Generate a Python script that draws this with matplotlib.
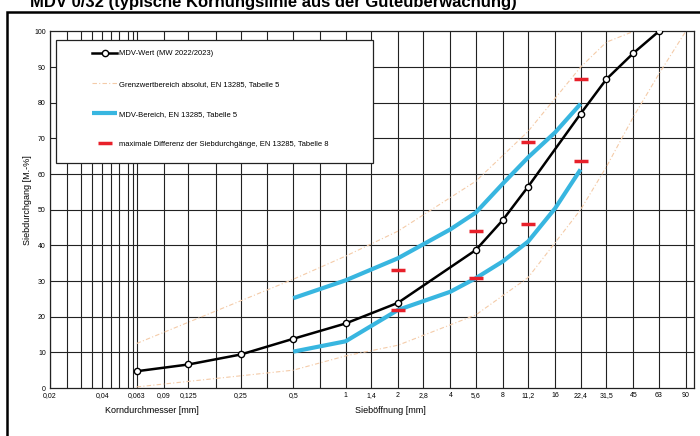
import numpy as np
import matplotlib.pyplot as plt
from matplotlib.patches import Rectangle

plt.rcParams['font.family'] = ['Liberation Sans', 'DejaVu Sans']

# Siebgroessen [mm]
sieve_mw = [0.063, 0.125, 0.25, 0.5, 1, 2, 5.6, 8, 11.2, 22.4, 31.5, 45, 63]
mw = [4.7, 6.6, 9.4, 13.8, 18.1, 23.9, 38.7, 47.1, 56.5, 76.9, 86.6, 93.9, 100]

# Grenzwertbereich absolut (Tabelle 5)
sieve_gw_up = [0.063, 0.5, 1, 2, 5.6, 11.2, 22.4, 31.5, 45, 63]
gw_up = [12.5, 30.5, 37, 44, 58, 72, 90, 97, 100, 100]
sieve_gw_lo = [0.063, 0.5, 1, 2, 5.6, 11.2, 22.4, 31.5, 45, 63, 90]
gw_lo = [0.3, 5, 9, 12, 20.5, 31, 50, 62, 76, 88, 100]

# MDV-Bereich (Tabelle 5)
sieve_band = [0.5, 1, 2, 4, 5.6, 8, 11.2, 16, 22.4]
band_up = [25.2, 30.2, 36.4, 44.5, 49.2, 57.3, 64.7, 71.7, 79.7]
band_lo = [10.2, 13.1, 21.9, 27.0, 30.8, 35.5, 41.1, 50.4, 61.3]

# maximale Differenz (Tabelle 8)
sieve_diff = [2, 2, 5.6, 5.6, 11.2, 11.2, 22.4, 22.4]
diff = [33.1, 21.9, 43.9, 30.8, 69.0, 46.0, 86.8, 63.8]

tick_vals = [0.02, 0.04, 0.063, 0.09, 0.125, 0.25, 0.5, 1, 1.4, 2, 2.8, 4,
             5.6, 8, 11.2, 16, 22.4, 31.5, 45, 63, 90]
grid_x = [0.02, 0.025, 0.03, 0.035, 0.04, 0.045, 0.05, 0.056, 0.06, 0.063,
          0.09, 0.125, 0.18, 0.25, 0.355, 0.5, 0.71, 1, 1.4, 2, 2.8, 4,
          5.6, 8, 11.2, 16, 22.4, 31.5, 45, 63, 90]

fig = plt.figure(figsize=(7, 4.36), dpi=100)
ax = fig.add_axes([50/700, 48/436, 643.6/700, 356.5/436])
ax.set_xscale('log')
ax.set_xlim(0.02, 100)
ax.set_ylim(0, 100)

for gx in grid_x:
    ax.axvline(gx, color='#222222', lw=0.8, zorder=1)
for gy in range(10, 100, 10):
    ax.axhline(gy, color='#222222', lw=0.8, zorder=1)

ax.set_xticks(tick_vals)
ax.set_xticklabels([str(v).replace('.', ',') for v in tick_vals])
ax.xaxis.set_minor_locator(plt.NullLocator())
ax.set_yticks(range(0, 101, 10))
ax.tick_params(axis='both', length=0, labelsize=5, pad=3)

ax.plot(sieve_gw_up, gw_up, color='#f4cba8', lw=0.8, ls=(0, (4, 2, 1, 2)), zorder=2,
        label='Grenzwertbereich absolut, EN 13285, Tabelle 5')
ax.plot(sieve_gw_lo, gw_lo, color='#f4cba8', lw=0.8, ls=(0, (4, 2, 1, 2)), zorder=2)
ax.plot(sieve_band, band_up, color='#38b6e0', lw=3, zorder=3,
        label='MDV-Bereich, EN 13285, Tabelle 5', solid_capstyle='butt')
ax.plot(sieve_band, band_lo, color='#38b6e0', lw=3, zorder=3, solid_capstyle='butt')
ax.plot(sieve_diff, diff, ls='none', marker='_', ms=10, mew=2.5, color='#e8202a', zorder=4,
        label='maximale Differenz der Siebdurchgänge, EN 13285, Tabelle 8')
ax.plot(sieve_mw, mw, color='black', lw=1.8, marker='o', ms=4.5, mfc='white', mec='black',
        mew=1, zorder=5, label='MDV-Wert (MW 2022/2023)')

for s in ax.spines.values():
    s.set_color('#222222')
    s.set_linewidth(0.9)

# legend box
ax.add_patch(Rectangle(((56-50)/643.6, (388-163)/356.5), (373-56)/643.6, (163-40)/356.5,
                       transform=ax.transAxes, fc='white', ec='#222222', lw=0.9, zorder=6))
h, l = ax.get_legend_handles_labels()
order = [3, 0, 1, 2]
leg = ax.legend([h[i] for i in order], [l[i] for i in order], loc='upper left',
                bbox_to_anchor=((92-50)/643.6, (388-50)/356.5), frameon=False,
                fontsize=5.5, labelspacing=3.0, handlelength=3.3, handletextpad=0.2,
                borderpad=0, borderaxespad=0)
leg.set_zorder(7)

fig.text(152/700, 1-410/436, 'Korndurchmesser [mm]', fontsize=6.5, ha='center', va='center')
fig.text(390/700, 1-410/436, 'Sieböffnung [mm]', fontsize=6.5, ha='center', va='center')
fig.text(28/700, 1-200/436, 'Siebdurchgang [M.-%]', fontsize=6.5, rotation=90,
         ha='center', va='center')

# title, partly cut off at the top edge as in the scan
fig.text(30/700, 1-7/436, 'MDV 0/32 (typische Körnungslinie aus der Güteüberwachung)',
         fontsize=12, fontweight='bold', ha='left', va='baseline')

# outer frame
fig.patches.append(Rectangle((7/700, -0.1), 1.0, 1-12/436+0.1, transform=fig.transFigure,
                             fill=False, ec='black', lw=1.8))

fig.savefig('out.png', dpi=100)
